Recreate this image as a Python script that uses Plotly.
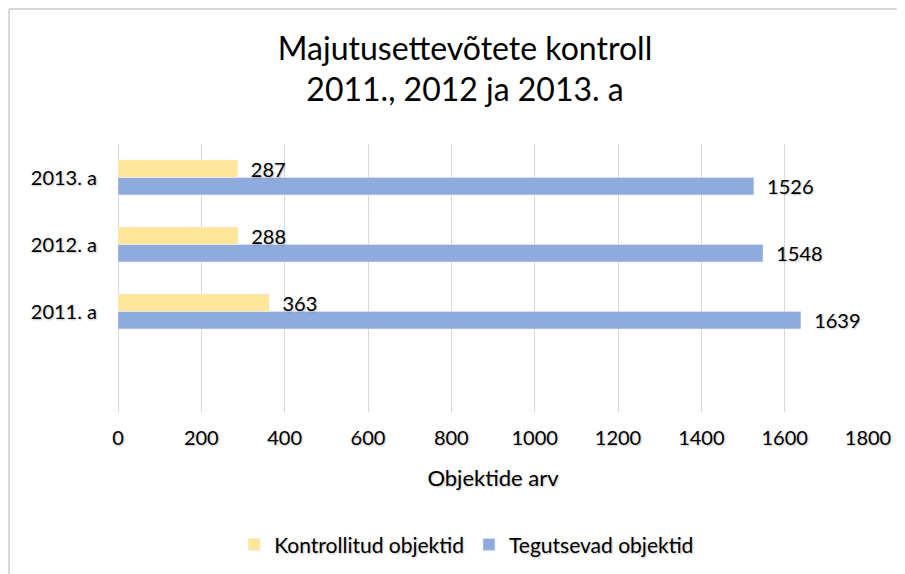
import plotly.graph_objects as go

categories = ["2011. a", "2012. a", "2013. a"]
kontrollitud = [363, 288, 287]
tegutsevad = [1639, 1548, 1526]
x_ticks = [0, 200, 400, 600, 800, 1000, 1200, 1400, 1600, 1800]

FONT = "Lato, Open Sans, sans-serif"
shadow = "1px 1px 2px rgba(0,0,0,0.25)"

fig = go.Figure()
fig.add_trace(go.Bar(
    y=categories, x=tegutsevad, orientation="h", name="Tegutsevad objektid",
    marker=dict(color="#8FAADC"), text=tegutsevad, texttemplate="  %{x}",
    textposition="outside", cliponaxis=False, legendrank=2, constraintext="none",
    textfont=dict(size=20, color="#000000", family=FONT, shadow=shadow),
))
fig.add_trace(go.Bar(
    y=categories, x=kontrollitud, orientation="h", name="Kontrollitud objektid",
    marker=dict(color="#FFE699"), text=kontrollitud, texttemplate="  %{x}",
    textposition="outside", cliponaxis=False, legendrank=1, constraintext="none",
    textfont=dict(size=20, color="#000000", family=FONT, shadow=shadow),
))

fig.update_layout(
    width=905, height=574,
    margin=dict(l=110, r=45, t=136, b=170, autoexpand=False),
    paper_bgcolor="white", plot_bgcolor="white",
    barmode="group", bargap=0.48, bargroupgap=0,
    font=dict(family=FONT, size=20, color="#000000"),
    title=dict(
        text="Majutusettevõtete kontroll<br>2011., 2012 ja 2013. a",
        x=0.4627, xanchor="center", xref="paper", y=0.91, yanchor="top",
        font=dict(size=32, color="#000000", family=FONT),
    ),
    xaxis=dict(
        range=[0, 1800], tickvals=x_ticks, showgrid=True, automargin=False,
        gridcolor="#d9d9d9", gridwidth=1.3, zeroline=True, zerolinecolor="#d9d9d9",
        zerolinewidth=1.3, showline=False, ticks="", ticklabelstandoff=12,
        tickfont=dict(size=20, family=FONT, shadow=shadow),
        title=dict(text="Objektide arv", font=dict(size=22, family=FONT, shadow=shadow), standoff=22),
    ),
    yaxis=dict(
        range=[-1.5, 2.5], showgrid=False, showline=False, ticks="", automargin=False,
        ticklabelstandoff=20,
        tickfont=dict(size=20, family=FONT, shadow=shadow),
    ),
    legend=dict(
        orientation="h", x=0.465, xanchor="center", y=-0.496, yanchor="middle",
        font=dict(size=21, family=FONT, shadow=shadow),
    ),
    shapes=[
        dict(type="line", xref="paper", yref="paper", x0=-0.1453, x1=-0.1453,
             y0=1.504, y1=-0.75, line=dict(color="#d9d9d9", width=2)),
        dict(type="line", xref="paper", yref="paper", x0=-0.1453, x1=1.2,
             y0=1.504, y1=1.504, line=dict(color="#d9d9d9", width=2)),
    ],
)

fig.write_html("out.html")
